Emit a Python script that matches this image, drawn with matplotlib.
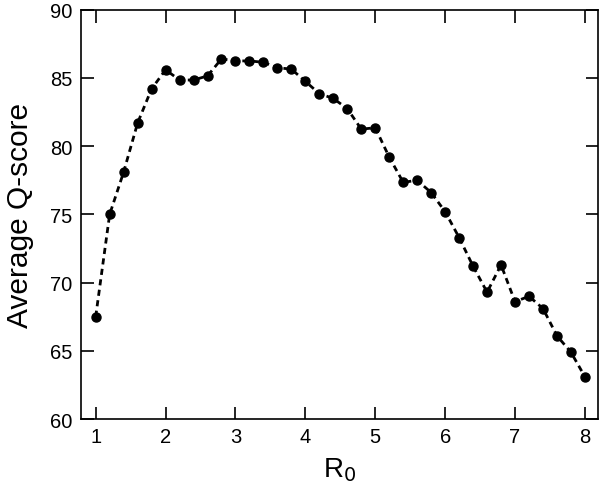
import matplotlib
matplotlib.use("Agg")
import matplotlib.pyplot as plt

# R0 values and average Q-score
r0 = [1.0, 1.2, 1.4, 1.6, 1.8, 2.0, 2.2, 2.4, 2.6, 2.8, 3.0, 3.2,
      3.4, 3.6, 3.8, 4.0, 4.2, 4.4, 4.6, 4.8, 5.0, 5.2, 5.4, 5.6,
      5.8, 6.0, 6.2, 6.4, 6.6, 6.8, 7.0, 7.2, 7.4, 7.6, 7.8, 8.0]
qscore = [67.5, 75.0, 78.1, 81.7, 84.2, 85.6, 84.85, 84.85, 85.15, 86.4, 86.25, 86.25,
          86.15, 85.75, 85.65, 84.75, 83.85, 83.5, 82.75, 81.25, 81.35, 79.2, 77.35, 77.5,
          76.6, 75.2, 73.3, 71.2, 69.3, 71.3, 68.6, 69.0, 68.1, 66.1, 64.9, 63.1]
xticks = [1, 2, 3, 4, 5, 6, 7, 8]
yticks = [60, 65, 70, 75, 80, 85, 90]

plt.rcParams['font.family'] = ['Liberation Sans', 'DejaVu Sans']

fig = plt.figure(figsize=(6, 4.89), dpi=100)
ax = fig.add_axes([0.135, 0.141, 0.862, 0.837])

ax.plot(r0, qscore, color='black', linestyle=(0, (2.2, 1.6)), linewidth=2,
        marker='o', markersize=6.5)

ax.set_xlim(0.79, 8.19)
ax.set_ylim(60, 90)
ax.set_xticks(xticks)
ax.set_yticks(yticks)
ax.tick_params(direction='in', length=9, width=1.2, labelsize=14.5,
               top=True, right=True, pad=6)
for s in ax.spines.values():
    s.set_linewidth(1.2)

ax.set_xlabel('R$_0$', fontsize=20, labelpad=6)
ax.set_ylabel('Average Q-score', fontsize=21.5, labelpad=12)

fig.savefig('out.png', dpi=100)
